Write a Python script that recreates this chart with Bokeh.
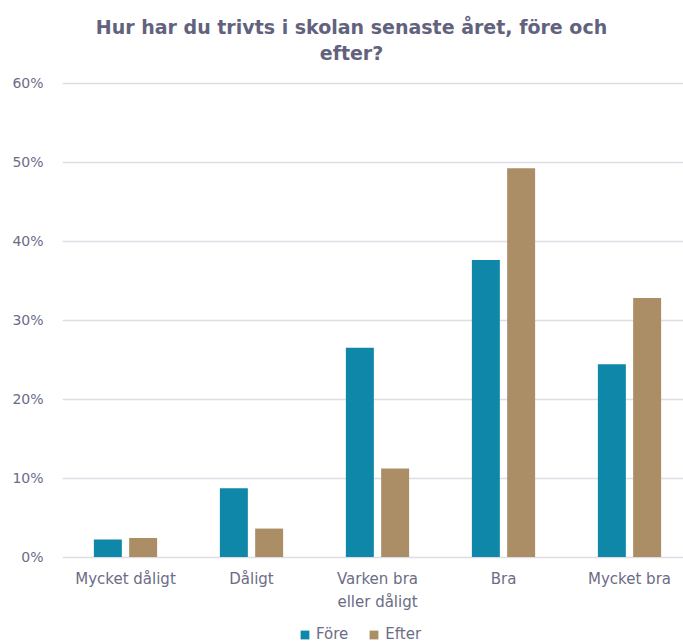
from bokeh.plotting import figure
from bokeh.models import (ColumnDataSource, FixedTicker, NumeralTickFormatter,
                          Range1d, Legend, LegendItem, Label)
from bokeh.core.properties import value
from bokeh.transform import dodge
from bokeh.embed import file_html
from bokeh.resources import INLINE

title_lines = ["Hur har du trivts i skolan senaste året, före och", "efter?"]
categories = ["Mycket dåligt", "Dåligt", "Varken bra\neller dåligt", "Bra", "Mycket bra"]
fore = [0.022, 0.087, 0.265, 0.376, 0.244]
efter = [0.024, 0.036, 0.112, 0.492, 0.328]
series_names = ["Före", "Efter"]
y_ticks = [0.0, 0.1, 0.2, 0.3, 0.4, 0.5, 0.6]

FORE_COLOR = "#0e87a8"
EFTER_COLOR = "#ab8e66"
TEXT_COLOR = "#6c6c86"
TITLE_COLOR = "#62627e"
FONT = "DejaVu Sans"

W, H = 683, 644
LEFT = 62
PX_PER_CAT = 126.0
PX_PER_UNIT = 789.9
ZERO_Y = 556.5          # pixel row of the 0 % line

def px_to_y(py):
    return (ZERO_Y - py) / PX_PER_UNIT

def px_to_x(px):
    return (px - LEFT) / PX_PER_CAT

pos = [i + 0.5 for i in range(len(categories))]
src = ColumnDataSource(dict(x=pos, fore=fore, efter=efter, cat=categories,
                            base=[0.0] * len(pos)))

p = figure(width=W, height=H, output_backend="svg", toolbar_location=None,
           x_range=Range1d(0, px_to_x(W)), y_range=Range1d(px_to_y(H), px_to_y(0)),
           min_border_left=LEFT, min_border_right=0, min_border_top=0,
           min_border_bottom=0)
p.title = None

r1 = p.vbar(x=dodge("x", -0.14, range=p.x_range), top="fore", width=0.222,
            source=src, fill_color=FORE_COLOR, line_color=None)
r2 = p.vbar(x=dodge("x", 0.14, range=p.x_range), top="efter", width=0.222,
            source=src, fill_color=EFTER_COLOR, line_color=None)

# category labels under the baseline
p.text(x="x", y="base", text="cat", source=src, y_offset=13,
       text_align="center", text_baseline="top",
       text_font=value(FONT), text_font_size="15px",
       text_color=TEXT_COLOR, text_line_height=1.25)

# two-line centred title
for line, baseline_px in zip(title_lines, [26, 52]):
    p.add_layout(Label(x=px_to_x(351), y=px_to_y(baseline_px), text=line,
                       text_align="center", text_baseline="alphabetic",
                       text_font=FONT, text_font_size="19px",
                       text_font_style="bold", text_color=TITLE_COLOR))

p.outline_line_color = None
p.xgrid.grid_line_color = None
p.xaxis.visible = False
p.ygrid.grid_line_color = "#dedde6"
p.ygrid.grid_line_width = 1.5
p.yaxis.ticker = FixedTicker(ticks=y_ticks)
p.yaxis.formatter = NumeralTickFormatter(format="0%")
p.ygrid.ticker = FixedTicker(ticks=y_ticks)

ax = p.yaxis[0]
ax.axis_line_color = None
ax.major_tick_line_color = None
ax.minor_tick_line_color = None
ax.major_tick_out = 0
ax.major_tick_in = 0
ax.major_label_text_font = FONT
ax.major_label_text_color = TEXT_COLOR
ax.major_label_text_font_size = "14px"
ax.major_label_standoff = 19

legend = Legend(items=[LegendItem(label=series_names[0], renderers=[r1]),
                       LegendItem(label=series_names[1], renderers=[r2])],
                orientation="horizontal", location=(237, 1),
                label_text_font=FONT, label_text_font_size="15px",
                label_text_color=TEXT_COLOR, glyph_width=11, glyph_height=11,
                label_height=18, label_standoff=6, spacing=20, padding=0,
                margin=0, border_line_color=None, background_fill_alpha=0)
p.add_layout(legend, "center")

open("out.html", "w").write(file_html(p, INLINE))
